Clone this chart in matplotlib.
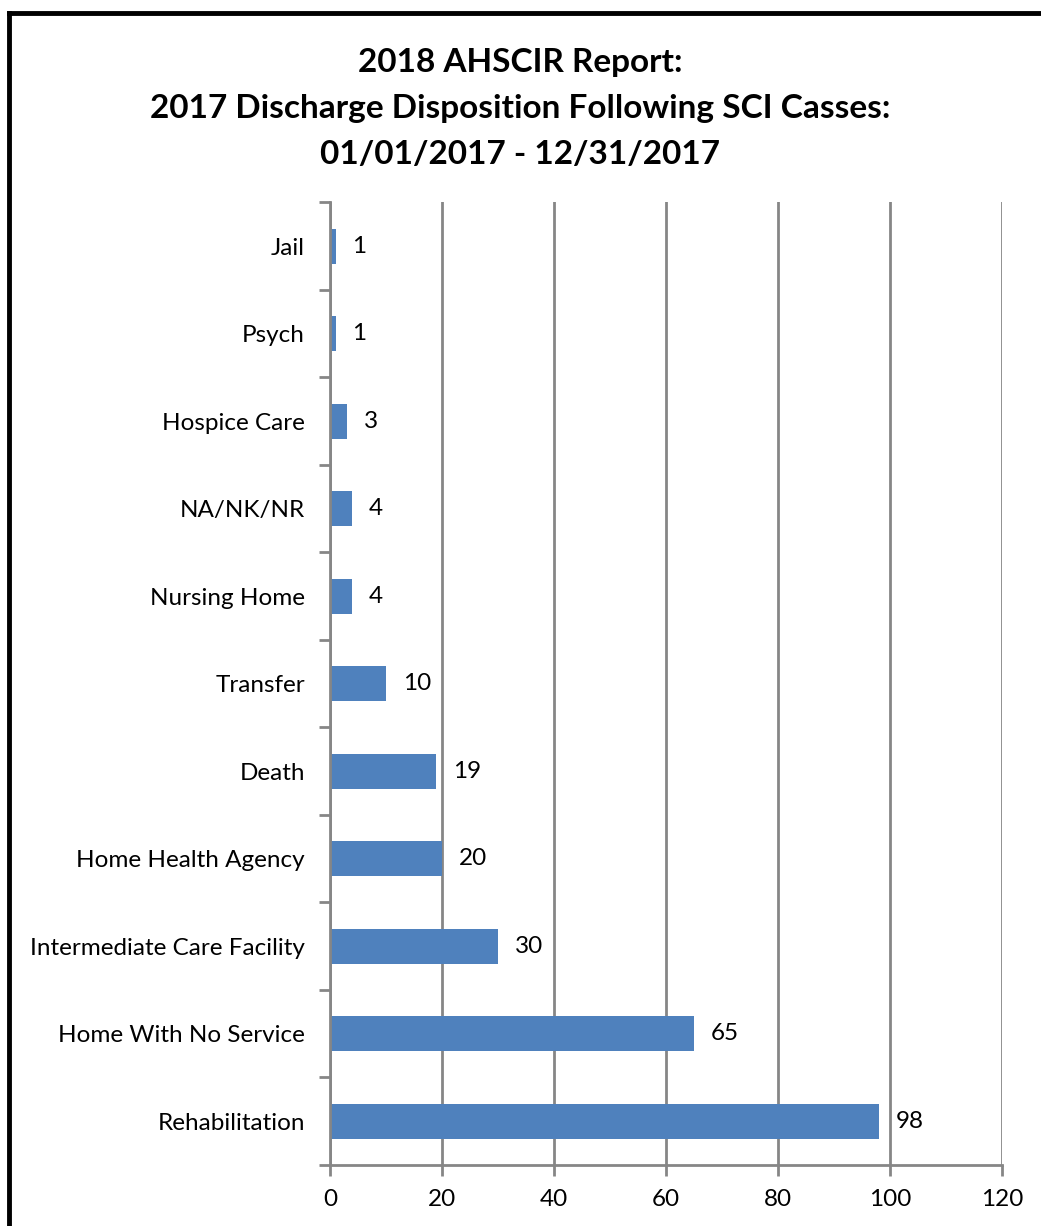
import matplotlib.pyplot as plt
from matplotlib.lines import Line2D

# discharge disposition counts, bottom to top
categorias = ['Rehabilitation', 'Home With No Service', 'Intermediate Care Facility',
              'Home Health Agency', 'Death', 'Transfer', 'Nursing Home',
              'NA/NK/NR', 'Hospice Care', 'Psych', 'Jail']
valores = [98, 65, 30, 20, 19, 10, 4, 4, 3, 1, 1]
ticks_x = [0, 20, 40, 60, 80, 100, 120]

titulo = ('2018 AHSCIR Report:\n'
          '2017 Discharge Disposition Following SCI Casses:\n'
          '01/01/2017 - 12/31/2017')

plt.rcParams['font.family'] = ['Lato', 'DejaVu Sans']
cinza = '#868686'

fig = plt.figure(figsize=(10.41, 12.26), dpi=100)
ax = fig.add_axes([0.317, 0.0498, 0.6455, 0.7852])

pos = list(range(len(categorias)))
ax.barh(pos, valores, height=0.4, color='#4F81BD', zorder=3)

# rotulos de valor ao lado de cada barra
for y, v in zip(pos, valores):
    ax.text(v + 3.0, y, str(v), va='center', ha='left', fontsize=17.5, color='black')

ax.set_xlim(0, 120)
ax.set_ylim(-0.5, len(categorias) - 0.5)
ax.set_xticks(ticks_x)
ax.set_xticklabels([str(t) for t in ticks_x], fontsize=17.5)
ax.set_yticks(pos)
ax.set_yticklabels(categorias, fontsize=17.5)
ax.tick_params(axis='y', length=0, pad=18)
ax.tick_params(axis='x', length=8, width=2, color=cinza, pad=9, direction='out')

# marcas entre categorias no eixo vertical
ax.set_yticks([p - 0.5 for p in range(len(categorias) + 1)], minor=True)
ax.tick_params(axis='y', which='minor', length=8, width=2, color=cinza, direction='out')

ax.grid(axis='x', color=cinza, linewidth=2, zorder=0)
for lado in ['top', 'right']:
    ax.spines[lado].set_visible(False)
for lado in ['left', 'bottom']:
    ax.spines[lado].set_color(cinza)
    ax.spines[lado].set_linewidth(2)
    ax.spines[lado].set_zorder(4)

fig.text(0.5, 0.961, titulo, ha='center', va='top', fontsize=24, fontweight='bold',
         linespacing=1.72)

# moldura preta so no topo e na esquerda
fig.add_artist(Line2D([0.0087, 0.0087], [0, 0.9898], transform=fig.transFigure,
                      color='black', linewidth=3.5, solid_capstyle='projecting'))
fig.add_artist(Line2D([0.0087, 1.0], [0.9898, 0.9898], transform=fig.transFigure,
                      color='black', linewidth=3.5, solid_capstyle='projecting'))

fig.savefig('out.png', dpi=100)
